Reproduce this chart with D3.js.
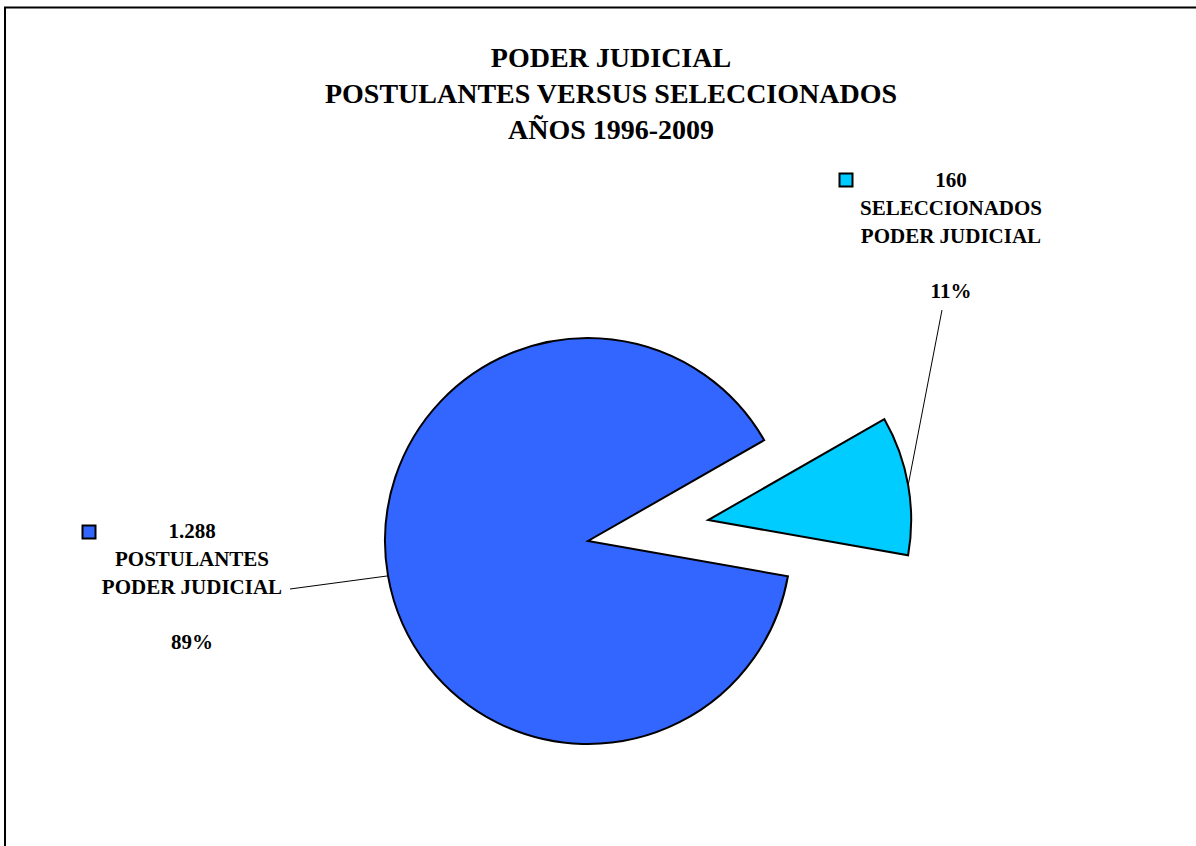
<!DOCTYPE html>
<html>
<head>
<meta charset="utf-8">
<script src="https://cdn.jsdelivr.net/npm/d3@7"></script>
<style>
    html, body { margin: 0; padding: 0; background: #fff; }
    svg text { font-family: "Liberation Serif", "Times New Roman", serif; font-weight: bold; fill: #000; }
</style>
</head>
<body>
<svg></svg>
<script>
const titleLines = ["PODER JUDICIAL", "POSTULANTES VERSUS SELECCIONADOS", "AÑOS 1996-2009"];
const categories = ["POSTULANTES", "SELECCIONADOS"];
const subLabels = ["PODER JUDICIAL", "PODER JUDICIAL"];
const values = [1288, 160];
const colors = ["#3366FF", "#00CCFF"];

(function (window, document) {
    const width = 1196;
    const height = 846;
    const cx = 588, cy = 541, radius = 203;
    const explodeDist = [0, 122];
    const deg = Math.PI / 180;

    let svg = d3.select("svg")
        .attr("width", width)
        .attr("height", height);

    // chart frame (runs off the right/bottom edge like the original)
    svg.append("rect")
        .attr("x", 5).attr("y", 7.5)
        .attr("width", width + 20).attr("height", height + 20)
        .attr("fill", "none")
        .attr("stroke", "#000")
        .attr("stroke-width", 2);

    svg.append("g")
        .selectAll("text")
        .data(titleLines)
        .enter()
        .append("text")
        .attr("x", 611)
        .attr("y", (d, i) => 67 + i * 36)
        .attr("text-anchor", "middle")
        .style("font-size", "28px")
        .text(d => d);

    const total = d3.sum(values);
    const pct = d3.format(".0%");
    const num = d3.formatLocale({ decimal: ",", thousands: ".", grouping: [3], currency: ["", ""] }).format(",");

    let pie = d3.pie()
        .sort(null)
        .startAngle(100 * deg)
        .endAngle(100 * deg + 2 * Math.PI);

    let arcs = pie(values);

    let arc = d3.arc()
        .innerRadius(0)
        .outerRadius(radius);

    const midAngle = d => (d.startAngle + d.endAngle) / 2;
    const offset = (d, i) => {
        const mid = midAngle(d);
        return [cx + explodeDist[i] * Math.sin(mid), cy - explodeDist[i] * Math.cos(mid)];
    };

    svg.append("g")
        .selectAll("path")
        .data(arcs)
        .enter()
        .append("path")
        .attr("transform", (d, i) => `translate(${offset(d, i)})`)
        .attr("d", arc)
        .attr("fill", (d, i) => colors[i])
        .attr("stroke", "#000")
        .attr("stroke-width", 2)
        .attr("stroke-linejoin", "miter");

    // label layout: centre x, first baseline, key box centre, leader start
    const labelLayout = [
        { x: 192, y: 538, key: [89, 532], lead: [290, 589] },
        { x: 951, y: 187, key: [846, 180], lead: [942, 310] }
    ];

    let labels = svg.append("g")
        .selectAll("g")
        .data(arcs)
        .enter()
        .append("g");

    labels.each(function (d, i) {
        const g = d3.select(this);
        const L = labelLayout[i];
        const lines = [num(values[i]), categories[i], subLabels[i]];
        g.selectAll("text.lbl")
            .data(lines)
            .enter()
            .append("text")
            .attr("class", "lbl")
            .attr("x", L.x)
            .attr("y", (t, j) => L.y + j * 28)
            .attr("text-anchor", "middle")
            .style("font-size", "21px")
            .text(t => t);
        g.append("text")
            .attr("x", L.x)
            .attr("y", L.y + 111)
            .attr("text-anchor", "middle")
            .style("font-size", "21px")
            .text(pct(values[i] / total));
        g.append("rect")
            .attr("x", L.key[0] - 6.5).attr("y", L.key[1] - 6.5)
            .attr("width", 13).attr("height", 13)
            .attr("fill", colors[i])
            .attr("stroke", "#000")
            .attr("stroke-width", 2);

        // leader from the label to the slice edge at its mid angle
        const o = offset(d, i);
        const a = midAngle(d);
        const end = [o[0] + radius * Math.sin(a), o[1] - radius * Math.cos(a)];
        g.append("line")
            .attr("x1", L.lead[0]).attr("y1", L.lead[1])
            .attr("x2", end[0]).attr("y2", end[1])
            .attr("stroke", "#000")
            .attr("stroke-width", 1);
    });
})(window, document);
</script>
</body>
</html>
